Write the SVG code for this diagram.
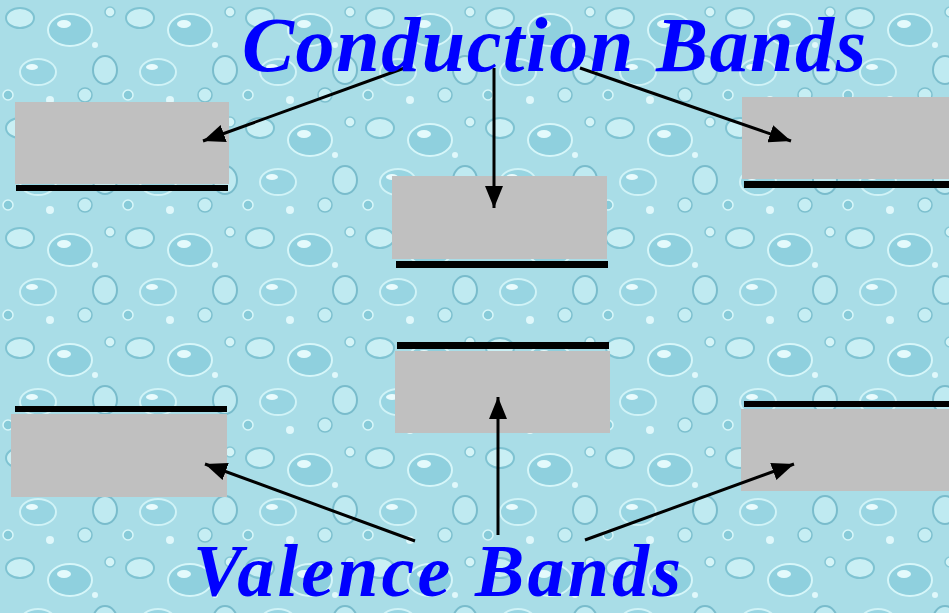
<svg xmlns="http://www.w3.org/2000/svg" width="949" height="613" viewBox="0 0 949 613">
  <style>
    .band { fill: #c0c0c0; }
    .edge { fill: #000000; }
    .label { font-family: "Liberation Serif", "Times New Roman", serif; font-weight: bold; font-style: italic; fill: #0000ff; }
    .conn { stroke: #000000; stroke-width: 3; fill: none; marker-end: url(#arrow); }
  </style>
  <defs>
    <marker id="arrow" markerUnits="userSpaceOnUse" markerWidth="24" markerHeight="18" refX="22" refY="9" orient="auto">
      <path d="M0,0 L22,9 L0,18 z" fill="#000000"/>
    </marker>
    <pattern id="drops" patternUnits="userSpaceOnUse" width="120" height="110">
      <rect width="120" height="110" fill="#a9dde7"/>
      <ellipse cx="20" cy="18" rx="14" ry="10" fill="#c9eff4" stroke="#7fc3d2" stroke-width="2"/>
      <ellipse cx="70" cy="30" rx="22" ry="16" fill="#8fd0de" stroke="#d6f6f9" stroke-width="2"/>
      <ellipse cx="64" cy="24" rx="7" ry="4" fill="#e4fafc"/>
      <ellipse cx="105" cy="70" rx="12" ry="14" fill="#bfeaf1" stroke="#79bccc" stroke-width="2"/>
      <ellipse cx="38" cy="72" rx="18" ry="13" fill="#98d5e2" stroke="#d0f3f7" stroke-width="2"/>
      <ellipse cx="32" cy="67" rx="6" ry="3" fill="#e8fbfd"/>
      <circle cx="85" cy="95" r="7" fill="#c6eef3" stroke="#7dc0cf" stroke-width="1.5"/>
      <circle cx="8" cy="95" r="5" fill="#88cbd9" stroke="#d8f7fa" stroke-width="1.5"/>
      <circle cx="110" cy="12" r="5" fill="#d4f4f7" stroke="#86c7d5" stroke-width="1.5"/>
      <circle cx="50" cy="100" r="4" fill="#e0f8fb"/>
      <circle cx="95" cy="45" r="3" fill="#e0f8fb"/>
    </pattern>
  </defs>

  <rect id="background" x="0" y="0" width="949" height="613" fill="url(#drops)"/>

  <g id="cb-left">
    <rect class="band" x="15" y="102" width="214" height="82"/>
    <rect class="edge" x="16" y="185" width="212" height="6"/>
  </g>
  <g id="cb-middle">
    <rect class="band" x="392" y="176" width="215" height="83"/>
    <rect class="edge" x="396" y="261" width="212" height="7"/>
  </g>
  <g id="cb-right">
    <rect class="band" x="742" y="97" width="207" height="82"/>
    <rect class="edge" x="744" y="181" width="205" height="7"/>
  </g>
  <g id="vb-left">
    <rect class="edge" x="15" y="406" width="212" height="6"/>
    <rect class="band" x="11" y="414" width="216" height="83"/>
  </g>
  <g id="vb-middle">
    <rect class="edge" x="397" y="342" width="212" height="7"/>
    <rect class="band" x="395" y="351" width="215" height="82"/>
  </g>
  <g id="vb-right">
    <rect class="edge" x="744" y="401" width="205" height="6"/>
    <rect class="band" x="741" y="409" width="208" height="82"/>
  </g>

  <g id="connectors">
    <line class="conn" x1="410" y1="66" x2="203" y2="141"/>
    <line class="conn" x1="494" y1="68" x2="494" y2="208"/>
    <line class="conn" x1="580" y1="68" x2="791" y2="141"/>
    <line class="conn" x1="415" y1="541" x2="205" y2="464"/>
    <line class="conn" x1="498" y1="535" x2="498" y2="397"/>
    <line class="conn" x1="585" y1="540" x2="794" y2="464"/>
  </g>

  <g id="label-conduction">
    <text class="label" x="242" y="71" font-size="78" textLength="624" lengthAdjust="spacing">Conduction Bands</text>
  </g>
  <g id="label-valence">
    <text class="label" x="193" y="596" font-size="74" textLength="488" lengthAdjust="spacing">Valence Bands</text>
  </g>
</svg>
